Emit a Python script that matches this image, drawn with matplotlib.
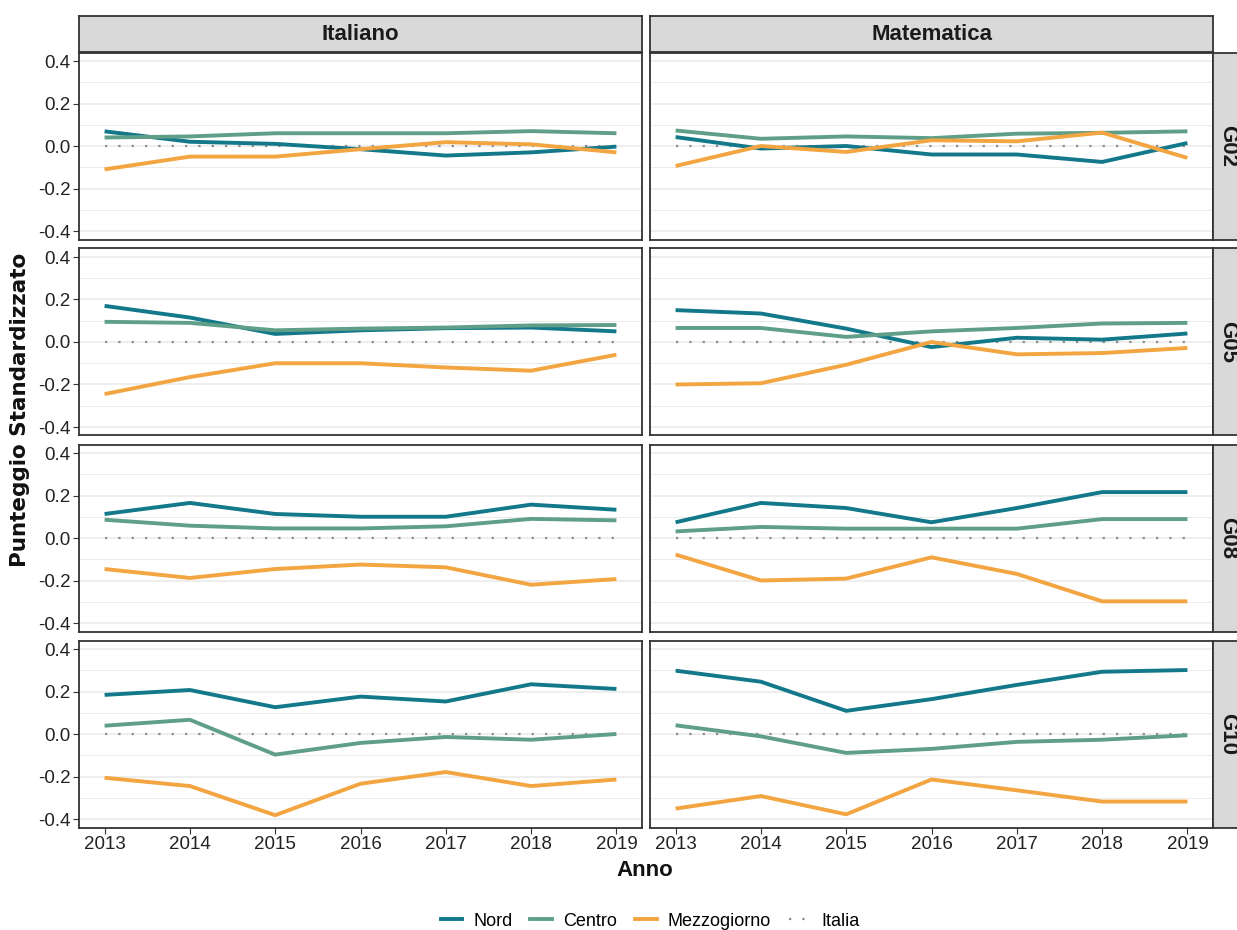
import matplotlib
matplotlib.use("Agg")
import matplotlib.pyplot as plt
from matplotlib.lines import Line2D

plt.rcParams['font.family'] = ['Liberation Sans', 'DejaVu Sans']

years = [2013, 2014, 2015, 2016, 2017, 2018, 2019]
subjects = ["Italiano", "Matematica"]
grades = ["G02", "G05", "G08", "G10"]
regions = ["Nord", "Centro", "Mezzogiorno"]

# Italiano
ita_G02_nord = [0.069, 0.02, 0.01, -0.015, -0.045, -0.03, -0.003]
ita_G02_centro = [0.04, 0.045, 0.06, 0.06, 0.06, 0.07, 0.06]
ita_G02_mezz = [-0.11, -0.05, -0.05, -0.015, 0.018, 0.008, -0.03]

ita_G05_nord = [0.17, 0.115, 0.038, 0.055, 0.065, 0.068, 0.05]
ita_G05_centro = [0.095, 0.09, 0.055, 0.063, 0.068, 0.078, 0.08]
ita_G05_mezz = [-0.245, -0.165, -0.10, -0.10, -0.12, -0.135, -0.06]

ita_G08_nord = [0.113, 0.165, 0.113, 0.10, 0.10, 0.157, 0.133]
ita_G08_centro = [0.086, 0.058, 0.045, 0.045, 0.055, 0.09, 0.083]
ita_G08_mezz = [-0.146, -0.188, -0.146, -0.125, -0.138, -0.22, -0.193]

ita_G10_nord = [0.184, 0.207, 0.126, 0.176, 0.153, 0.234, 0.212]
ita_G10_centro = [0.039, 0.067, -0.097, -0.042, -0.014, -0.027, 0.0]
ita_G10_mezz = [-0.206, -0.245, -0.382, -0.234, -0.179, -0.245, -0.214]

# Matematica
mat_G02_nord = [0.042, -0.012, 0.0, -0.04, -0.04, -0.075, 0.014]
mat_G02_centro = [0.073, 0.034, 0.045, 0.037, 0.058, 0.062, 0.069]
mat_G02_mezz = [-0.094, 0.0, -0.028, 0.027, 0.022, 0.063, -0.056]

mat_G05_nord = [0.15, 0.134, 0.063, -0.024, 0.02, 0.011, 0.04]
mat_G05_centro = [0.066, 0.066, 0.024, 0.05, 0.066, 0.087, 0.09]
mat_G05_mezz = [-0.20, -0.194, -0.107, 0.0, -0.058, -0.052, -0.028]

mat_G08_nord = [0.074, 0.165, 0.141, 0.074, 0.141, 0.216, 0.216]
mat_G08_centro = [0.031, 0.052, 0.044, 0.044, 0.044, 0.089, 0.089]
mat_G08_mezz = [-0.078, -0.20, -0.191, -0.091, -0.169, -0.298, -0.298]

mat_G10_nord = [0.298, 0.246, 0.109, 0.164, 0.231, 0.293, 0.301]
mat_G10_centro = [0.041, -0.011, -0.089, -0.07, -0.037, -0.027, -0.006]
mat_G10_mezz = [-0.351, -0.292, -0.378, -0.214, -0.265, -0.318, -0.318]

italia = [0, 0, 0, 0, 0, 0, 0]

data = {
    ("Italiano", "G02"): [ita_G02_nord, ita_G02_centro, ita_G02_mezz],
    ("Italiano", "G05"): [ita_G05_nord, ita_G05_centro, ita_G05_mezz],
    ("Italiano", "G08"): [ita_G08_nord, ita_G08_centro, ita_G08_mezz],
    ("Italiano", "G10"): [ita_G10_nord, ita_G10_centro, ita_G10_mezz],
    ("Matematica", "G02"): [mat_G02_nord, mat_G02_centro, mat_G02_mezz],
    ("Matematica", "G05"): [mat_G05_nord, mat_G05_centro, mat_G05_mezz],
    ("Matematica", "G08"): [mat_G08_nord, mat_G08_centro, mat_G08_mezz],
    ("Matematica", "G10"): [mat_G10_nord, mat_G10_centro, mat_G10_mezz],
}

colors = {"Nord": "#12788A", "Centro": "#5F9E87", "Mezzogiorno": "#F2A541"}
italia_color = "#8C8C8C"
border_col = "#333333"

W, H = 1237, 930
fig = plt.figure(figsize=(W / 100, H / 100), dpi=100)

col_x = [79, 650]
col_w = 563
row_top = [52.5, 248.5, 444.5, 640.5]
row_h = 187
strip_h = 36
strip_w = 30

for ci, subj in enumerate(subjects):
    for ri, g in enumerate(grades):
        x0 = col_x[ci]
        y0 = row_top[ri]
        ax = fig.add_axes([x0 / W, 1 - (y0 + row_h) / H, col_w / W, row_h / H])
        ax.set_xlim(2012.7, 2019.3)
        ax.set_ylim(-0.44, 0.44)
        ax.set_yticks([-0.4, -0.2, 0.0, 0.2, 0.4])
        ax.set_yticks([-0.3, -0.1, 0.1, 0.3], minor=True)
        ax.set_xticks(years)
        ax.grid(axis='y', which='major', color='#EBEBEB', lw=1.2, zorder=0)
        ax.grid(axis='y', which='minor', color='#EBEBEB', lw=0.7, zorder=0)
        for s in ax.spines.values():
            s.set_color(border_col)
            s.set_linewidth(1.3)
        ax.tick_params(axis='both', which='major', length=4, color='#333333',
                       labelsize=13.5, labelcolor='#222222', pad=2)
        ax.tick_params(axis='y', which='minor', length=0)
        if ci == 0:
            ax.set_yticklabels(["-0.4", "-0.2", "0.0", "0.2", "0.4"])
        else:
            ax.tick_params(axis='y', which='major', length=0, labelleft=False)
        if ri == 3:
            ax.set_xticklabels([str(y) for y in years])
        else:
            ax.tick_params(axis='x', length=0, labelbottom=False)

        ax.plot(years, italia, color=italia_color, lw=1.6,
                linestyle=(0, (1, 5)), zorder=2)
        series = data[(subj, g)]
        for reg, vals in zip(regions, series):
            ax.plot(years, vals, color=colors[reg], lw=2.8,
                    solid_capstyle='butt', zorder=3)

        # top strips
        if ri == 0:
            sax = fig.add_axes([x0 / W, 1 - (y0) / H, col_w / W, strip_h / H])
            sax.set_xlim(0, 1); sax.set_ylim(0, 1)
            sax.set_facecolor('#D9D9D9')
            sax.set_xticks([]); sax.set_yticks([])
            for s in sax.spines.values():
                s.set_color(border_col); s.set_linewidth(1.3)
            sax.text(0.5, 0.5, subj, ha='center', va='center',
                     fontsize=16, fontweight='bold', color='#1A1A1A')
        # right strips
        if ci == 1:
            sx = x0 + col_w
            rax = fig.add_axes([sx / W, 1 - (y0 + row_h) / H, strip_w / W, row_h / H])
            rax.set_xlim(0, 1); rax.set_ylim(0, 1)
            rax.set_facecolor('#D9D9D9')
            rax.set_xticks([]); rax.set_yticks([])
            for s in rax.spines.values():
                s.set_color(border_col); s.set_linewidth(1.3)
            rax.text(0.5, 0.5, g, ha='center', va='center', rotation=-90,
                     fontsize=16, fontweight='bold', color='#1A1A1A')

fig.text(20 / W, 1 - 410 / H, "Punteggio Standardizzato", rotation=90,
         ha='center', va='center', fontsize=15.5, fontweight='bold',
         family=['DejaVu Sans'], color='#111111')
fig.text(645 / W, 1 - 870 / H, "Anno", ha='center', va='center',
         fontsize=16, fontweight='bold', color='#111111')

handles = [Line2D([], [], color=colors[r], lw=2.8) for r in regions]
handles.append(Line2D([], [], color=italia_color, lw=1.6, linestyle=(0, (1, 5))))
labels = regions + ["Italia"]
fig.legend(handles, labels, loc='center', bbox_to_anchor=(650 / W, 1 - 921 / H),
           ncol=4, frameon=False, fontsize=13, handlelength=1.2,
           handletextpad=0.6, columnspacing=1.0, borderpad=0.2)

fig.savefig("out.png", dpi=100, facecolor='white')
